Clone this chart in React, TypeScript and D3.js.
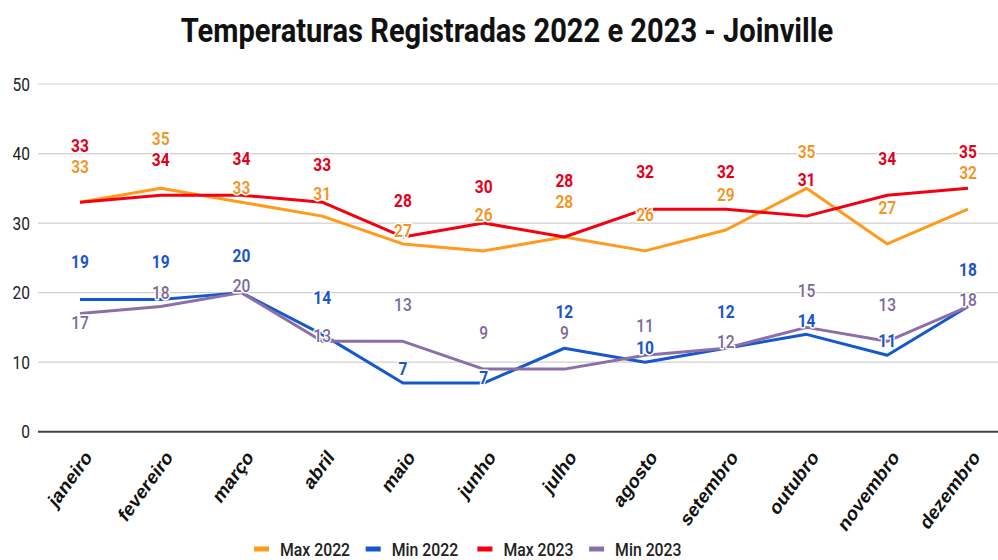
import React from 'react';
import * as d3 from 'd3';

// ---- data ----
const months = ['janeiro', 'fevereiro', 'março', 'abril', 'maio', 'junho', 'julho', 'agosto', 'setembro', 'outubro', 'novembro', 'dezembro'];
const max2022 = [33, 35, 33, 31, 27, 26, 28, 26, 29, 35, 27, 32];
const min2022 = [19, 19, 20, 14, 7, 7, 12, 10, 12, 14, 11, 18];
const max2023 = [33, 34, 34, 33, 28, 30, 28, 32, 32, 31, 34, 35];
const min2023 = [17, 18, 20, 13, 13, 9, 9, 11, 12, 15, 13, 18];
const yTicks = [0, 10, 20, 30, 40, 50];
const seriesNames = ['Max 2022', 'Min 2022', 'Max 2023', 'Min 2023'];

// ---- label placement (vertical offset of each data label from its point, px) ----
const offMax2022 = [-36, -49.5, -15, -23, -14, -37, -36, -37, -36, -37, -37, -37];
const offMin2022 = [-38, -38, -37, -37, -15, -6, -37, -15, -37, -14, -15, -37];
const offMax2023 = [-56.5, -36, -37, -38, -37, -37, -56.5, -38, -38, -37, -37, -37];
const offMin2023 = [9, -14, -7, -6, -37, -37, -37, -30, -7, -37, -37, -7];

// ---- styles ----
const K = 0.84; // horizontal text compression of the reference
const W = 998;
const H = 560;
const colors = ['#ff9a1a', '#1458d0', '#f40010', '#8c6fa8'];
const labelColors = ['#f29422', '#1a56c8', '#e3001a', '#7d6a99'];
const labelWeights = [600, 700, 700, 500];

export default function App() {
  const x = d3.scalePoint<string>().domain(months).range([80, 968]);
  const y = d3.scaleLinear().domain([0, 50]).range([431.7, 84]);
  const series = [max2022, min2022, max2023, min2023];
  const offsets = [offMax2022, offMin2022, offMax2023, offMin2023];
  const line = d3
    .line<number>()
    .x((_, i) => x(months[i]) as number)
    .y((d) => y(d));

  const txt = (tx: number, ty: number, extra = '', k = K) => `translate(${tx},${ty}) scale(${k},1)${extra}`;

  return (
    <svg
      width={W}
      height={H}
      style={{ position: 'absolute', left: 0, top: 0, background: '#fff' }}
      fontFamily="Roboto, sans-serif"
    >
      <rect width={W} height={H} fill="#fff" />
      {/* title */}
      <text
        transform={txt(507, 42, '', 0.895)}
        textAnchor="middle"
        fontSize={32.5}
        fontWeight={700}
        fill="#111"
      >
        Temperaturas Registradas 2022 e 2023 - Joinville
      </text>

      {/* grid */}
      {yTicks.map((t) => (
        <g key={t}>
          {t !== 0 && <line x1={38} x2={998} y1={y(t)} y2={y(t)} stroke="#cfcfcf" strokeWidth={1.2} />}
          <text transform={txt(30, y(t))} dy="0.36em" textAnchor="end" fontSize={18.5} fill="#222">
            {t}
          </text>
        </g>
      ))}
      <line x1={38} x2={998} y1={y(0)} y2={y(0)} stroke="#444" strokeWidth={2} />

      {/* x labels */}
      {months.map((m) => (
        <text
          key={m}
          transform={txt((x(m) as number) + 13, 458, ' rotate(-49)')}
          textAnchor="end"
          fontFamily="'Liberation Sans', Arial, sans-serif"
          fontWeight={700}
          fontSize={20.5}
          fill="#111"
        >
          {m}
        </text>
      ))}

      {/* lines */}
      {series.map((s, si) => (
        <path key={si} d={line(s) || ''} fill="none" stroke={colors[si]} strokeWidth={3} strokeLinejoin="round" />
      ))}

      {/* data labels */}
      {series.map((s, si) =>
        s.map((v, i) => (
          <text
            key={`${si}-${i}`}
            transform={txt(x(months[i]) as number, y(v) + offsets[si][i])}
            dy="0.36em"
            textAnchor="middle"
            fontSize={18.5}
            fontWeight={labelWeights[si]}
            fill={labelColors[si]}
            stroke="#fff"
            strokeWidth={3}
            paintOrder="stroke"
            strokeLinejoin="round"
          >
            {v}
          </text>
        ))
      )}

      {/* legend */}
      {seriesNames.map((n, i) => {
        const lx = 254 + i * 111.7;
        return (
          <g key={n}>
            <rect x={lx} y={546.5} width={15} height={5} fill={colors[i]} />
            <text transform={txt(lx + 26, 549)} dy="0.36em" fontSize={18.8} fontWeight={500} fill="#222">
              {n}
            </text>
          </g>
        );
      })}
    </svg>
  );
}
